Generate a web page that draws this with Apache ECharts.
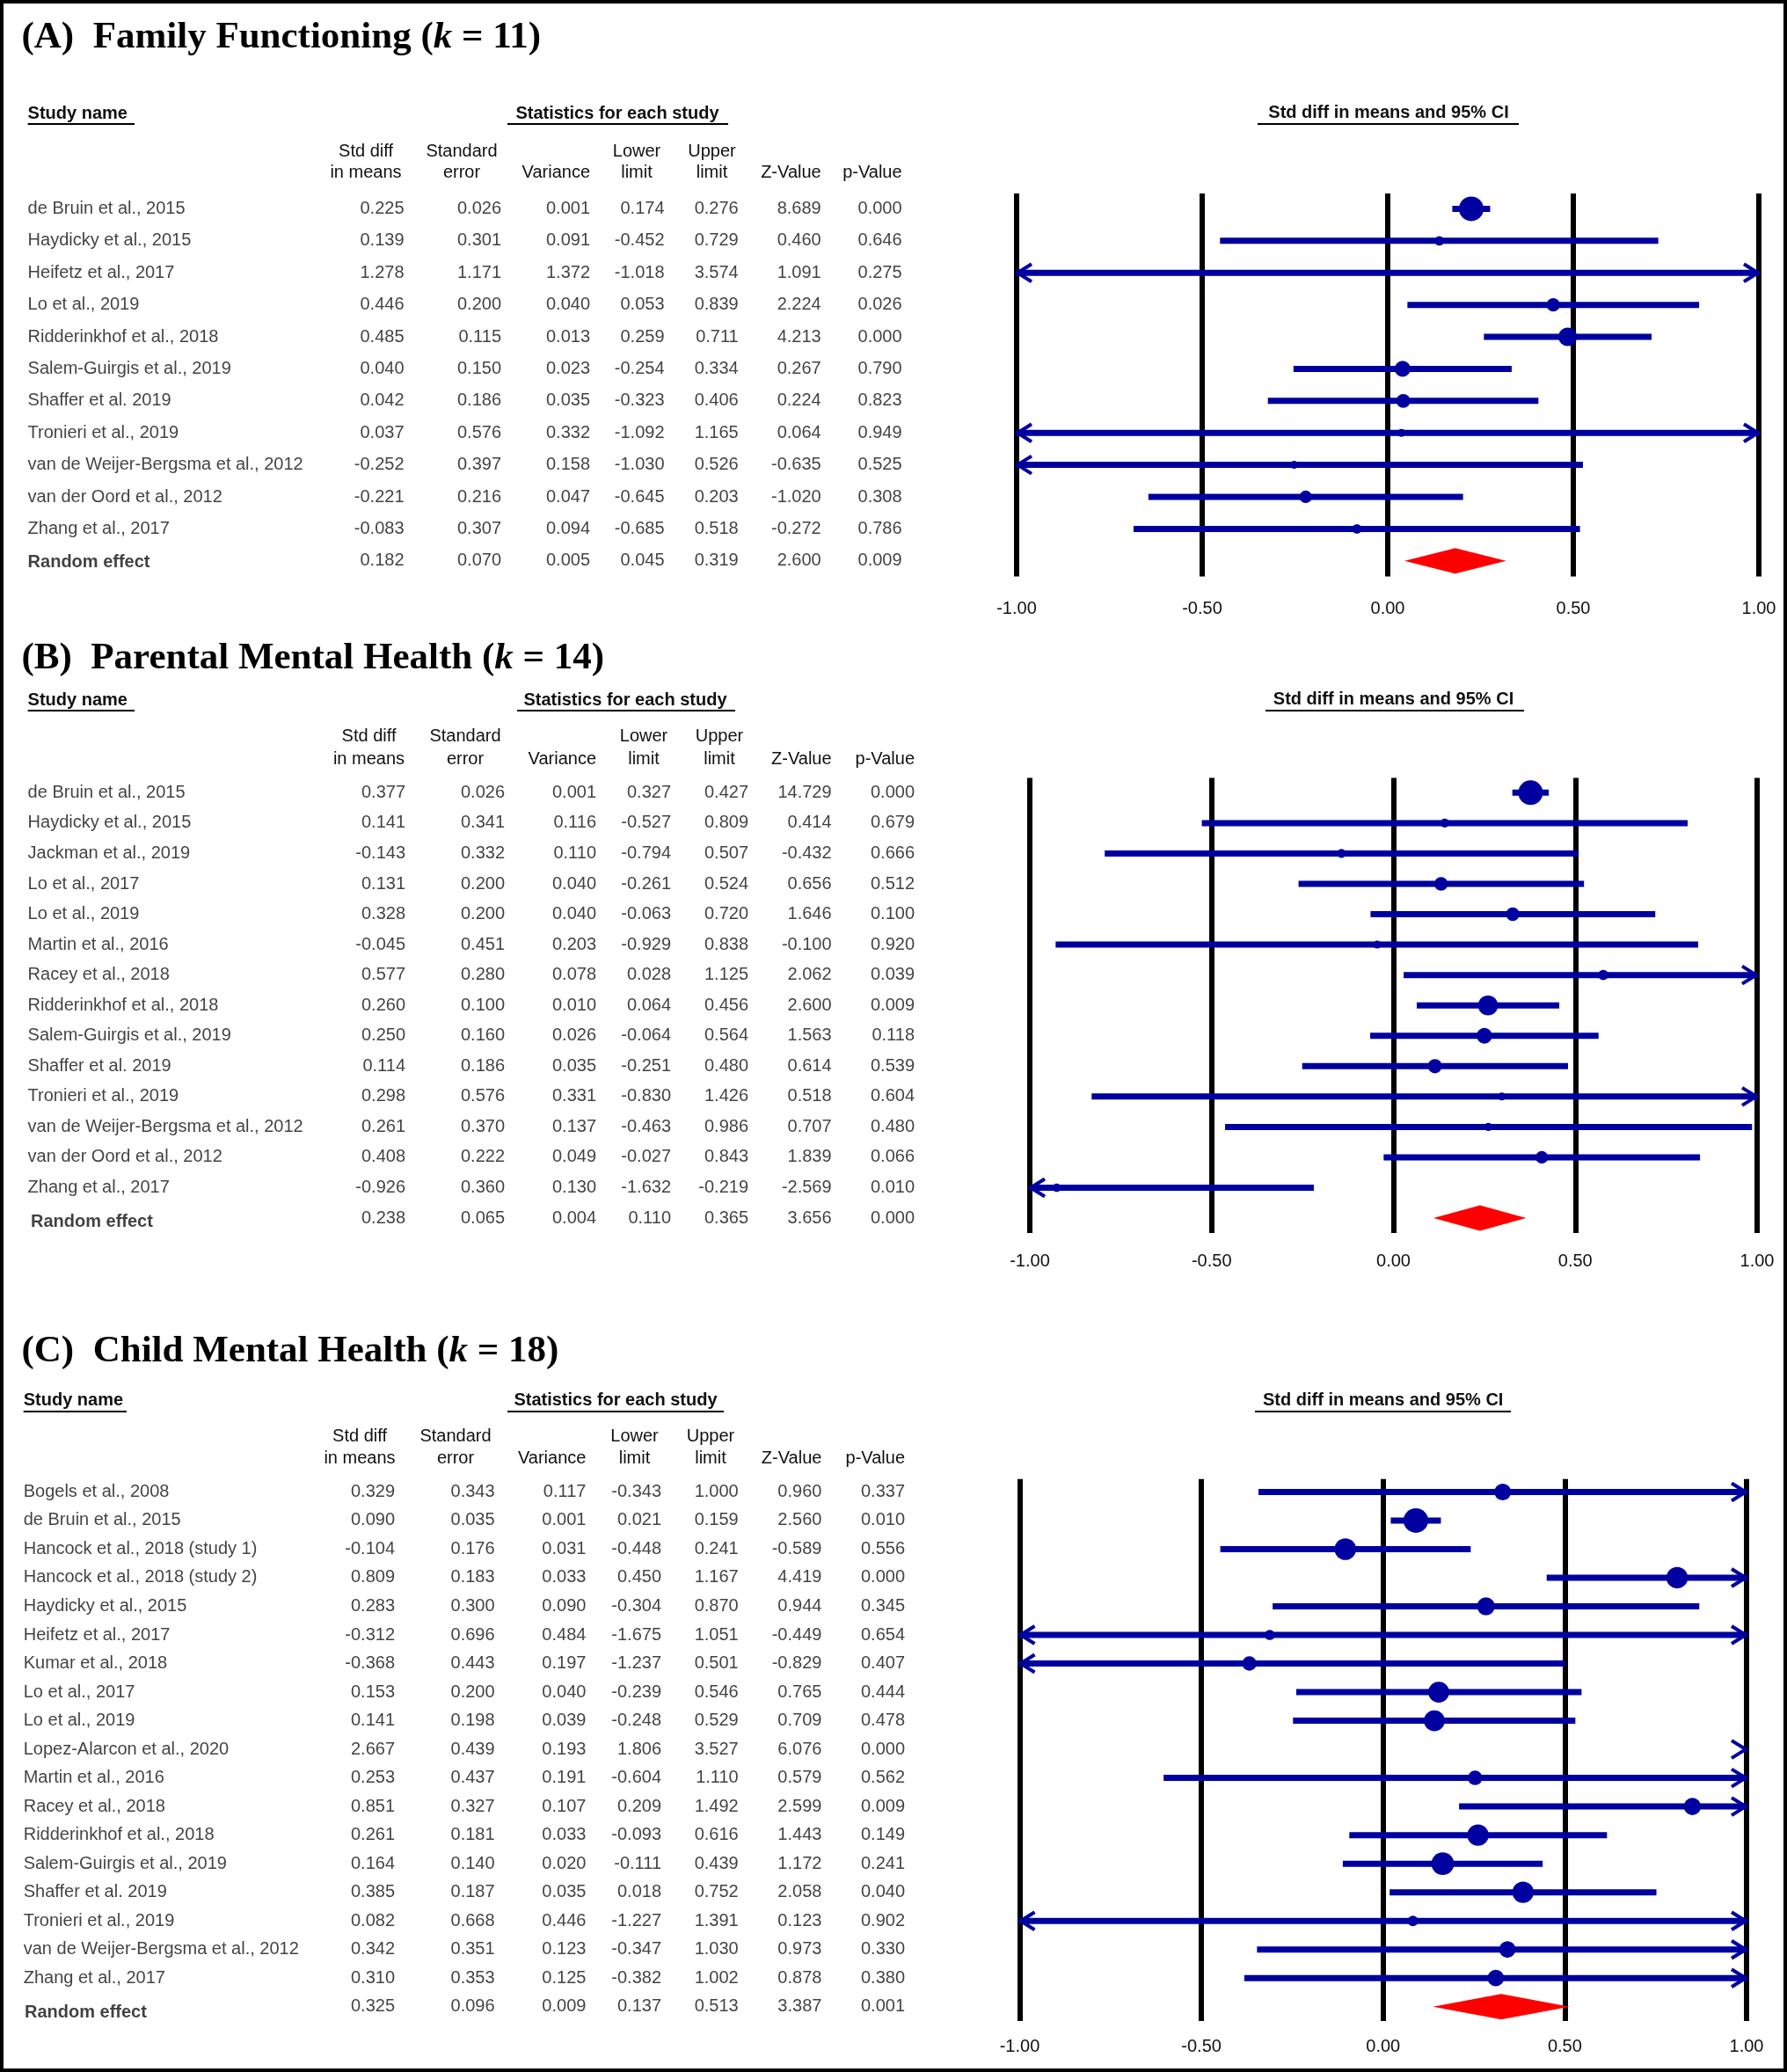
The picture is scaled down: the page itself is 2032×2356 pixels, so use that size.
<!DOCTYPE html>
<html><head><meta charset="utf-8">
<script src="https://cdn.jsdelivr.net/npm/echarts@6/dist/echarts.min.js"></script>
<style>html,body{margin:0;padding:0;background:#fff}#c{width:2032px;height:2356px}</style>
</head><body><div id="c"></div>
<script>
// ---------- Panel A: Family Functioning ----------
const studiesA = ['de Bruin et al., 2015','Haydicky et al., 2015','Heifetz et al., 2017','Lo et al., 2019','Ridderinkhof et al., 2018','Salem-Guirgis et al., 2019','Shaffer et al. 2019','Tronieri et al., 2019','van de Weijer-Bergsma et al., 2012','van der Oord et al., 2012','Zhang et al., 2017'];
const smdA = [0.225,0.139,1.278,0.446,0.485,0.040,0.042,0.037,-0.252,-0.221,-0.083];
const seA  = [0.026,0.301,1.171,0.200,0.115,0.150,0.186,0.576,0.397,0.216,0.307];
const varA = [0.001,0.091,1.372,0.040,0.013,0.023,0.035,0.332,0.158,0.047,0.094];
const lowA = [0.174,-0.452,-1.018,0.053,0.259,-0.254,-0.323,-1.092,-1.030,-0.645,-0.685];
const upA  = [0.276,0.729,3.574,0.839,0.711,0.334,0.406,1.165,0.526,0.203,0.518];
const zA   = [8.689,0.460,1.091,2.224,4.213,0.267,0.224,0.064,-0.635,-1.020,-0.272];
const pA   = [0.000,0.646,0.275,0.026,0.000,0.790,0.823,0.949,0.525,0.308,0.786];
const pooledA = [0.182,0.070,0.005,0.045,0.319,2.600,0.009];

// ---------- Panel B: Parental Mental Health ----------
const studiesB = ['de Bruin et al., 2015','Haydicky et al., 2015','Jackman et al., 2019','Lo et al., 2017','Lo et al., 2019','Martin et al., 2016','Racey et al., 2018','Ridderinkhof et al., 2018','Salem-Guirgis et al., 2019','Shaffer et al. 2019','Tronieri et al., 2019','van de Weijer-Bergsma et al., 2012','van der Oord et al., 2012','Zhang et al., 2017'];
const smdB = [0.377,0.141,-0.143,0.131,0.328,-0.045,0.577,0.260,0.250,0.114,0.298,0.261,0.408,-0.926];
const seB  = [0.026,0.341,0.332,0.200,0.200,0.451,0.280,0.100,0.160,0.186,0.576,0.370,0.222,0.360];
const varB = [0.001,0.116,0.110,0.040,0.040,0.203,0.078,0.010,0.026,0.035,0.331,0.137,0.049,0.130];
const lowB = [0.327,-0.527,-0.794,-0.261,-0.063,-0.929,0.028,0.064,-0.064,-0.251,-0.830,-0.463,-0.027,-1.632];
const upB  = [0.427,0.809,0.507,0.524,0.720,0.838,1.125,0.456,0.564,0.480,1.426,0.986,0.843,-0.219];
const zB   = [14.729,0.414,-0.432,0.656,1.646,-0.100,2.062,2.600,1.563,0.614,0.518,0.707,1.839,-2.569];
const pB   = [0.000,0.679,0.666,0.512,0.100,0.920,0.039,0.009,0.118,0.539,0.604,0.480,0.066,0.010];
const pooledB = [0.238,0.065,0.004,0.110,0.365,3.656,0.000];

// ---------- Panel C: Child Mental Health ----------
const studiesC = ['Bogels et al., 2008','de Bruin et al., 2015','Hancock et al., 2018 (study 1)','Hancock et al., 2018 (study 2)','Haydicky et al., 2015','Heifetz et al., 2017','Kumar et al., 2018','Lo et al., 2017','Lo et al., 2019','Lopez-Alarcon et al., 2020','Martin et al., 2016','Racey et al., 2018','Ridderinkhof et al., 2018','Salem-Guirgis et al., 2019','Shaffer et al. 2019','Tronieri et al., 2019','van de Weijer-Bergsma et al., 2012','Zhang et al., 2017'];
const smdC = [0.329,0.090,-0.104,0.809,0.283,-0.312,-0.368,0.153,0.141,2.667,0.253,0.851,0.261,0.164,0.385,0.082,0.342,0.310];
const seC  = [0.343,0.035,0.176,0.183,0.300,0.696,0.443,0.200,0.198,0.439,0.437,0.327,0.181,0.140,0.187,0.668,0.351,0.353];
const varC = [0.117,0.001,0.031,0.033,0.090,0.484,0.197,0.040,0.039,0.193,0.191,0.107,0.033,0.020,0.035,0.446,0.123,0.125];
const lowC = [-0.343,0.021,-0.448,0.450,-0.304,-1.675,-1.237,-0.239,-0.248,1.806,-0.604,0.209,-0.093,-0.111,0.018,-1.227,-0.347,-0.382];
const upC  = [1.000,0.159,0.241,1.167,0.870,1.051,0.501,0.546,0.529,3.527,1.110,1.492,0.616,0.439,0.752,1.391,1.030,1.002];
const zC   = [0.960,2.560,-0.589,4.419,0.944,-0.449,-0.829,0.765,0.709,6.076,0.579,2.599,1.443,1.172,2.058,0.123,0.973,0.878];
const pC   = [0.337,0.010,0.556,0.000,0.345,0.654,0.407,0.444,0.478,0.000,0.562,0.009,0.149,0.241,0.040,0.902,0.330,0.380];
const pooledC = [0.325,0.096,0.009,0.137,0.513,3.387,0.001];

// estimated between-study variance per panel (used only for marker weights)
const tau2A = 0.015, tau2B = 0.016, tau2C = 0.10;

const xTicks = [-1, -0.5, 0, 0.5, 1];
const colHeads = [['Std diff','in means'],['Standard','error'],['','Variance'],['Lower','limit'],['Upper','limit'],['','Z-Value'],['','p-Value']];

// ---------- layout (pixels) ----------
const layoutA = {titleX:24.5, titleY:43, nameX:31.6, reX:31.6, reDy:2, hdrY:129.5, ulY:141, studyUl:[31.6,153], statsC:702, statsUl:[577,828], ciC:1579, ciY:128.6, ciUl:[1430,1727], ciUlY:141,
  h1:172, h2:196.4, colR:[459.5,570,671,755.5,839.7,933.7,1025.6], hdrC:[416,525,null,724,809.5,null,null],
  left:1156, right:32, top:220, bottom:1700.4, yMin:-0.48, yMax:11.49, labelMargin:27};
const layoutB = {titleX:24.5, titleY:749, nameX:31.6, reX:35, reDy:4, hdrY:796.4, ulY:808, studyUl:[31.6,153], statsC:711, statsUl:[588,836], ciC:1584.5, ciY:795.8, ciUl:[1439,1733], ciUlY:808,
  h1:837.7, h2:863, colR:[461,574,678,763,851,945.6,1040], hdrC:[419.5,529,null,732,818,null,null],
  left:1171, right:34, top:884.4, bottom:954, yMin:-0.49, yMax:14.49, labelMargin:22};
const layoutC = {titleX:24.5, titleY:1537, nameX:26.7, reX:28, reDy:7, hdrY:1592.8, ulY:1605, studyUl:[26.7,144], statsC:700, statsUl:[577,823], ciC:1572.7, ciY:1592.8, ciUl:[1427,1718], ciUlY:1605,
  h1:1633.7, h2:1658.3, colR:[449,562.6,666.4,752,839.7,934.4,1029], hdrC:[409,518,null,721.5,808,null,null],
  left:1159.5, right:46, top:1681.8, bottom:58, yMin:-0.45, yMax:18.5, labelMargin:19};

const panels = [
  {letter:'A', title:'Family Functioning', k:11, studies:studiesA, cols:[smdA,seA,varA,lowA,upA,zA,pA], pooled:pooledA, tau2:tau2A, L:layoutA},
  {letter:'B', title:'Parental Mental Health', k:14, studies:studiesB, cols:[smdB,seB,varB,lowB,upB,zB,pB], pooled:pooledB, tau2:tau2B, L:layoutB},
  {letter:'C', title:'Child Mental Health', k:18, studies:studiesC, cols:[smdC,seC,varC,lowC,upC,zC,pC], pooled:pooledC, tau2:tau2C, L:layoutC}
];

const BLUE = '#0000A0';
const RED = '#FF0000';
const FONT = '"Liberation Sans", Arial, sans-serif';
const SERIF = '"Liberation Serif", "Times New Roman", serif';
const TXT = '#111';

function renderStudy(params, api) {
  const est = api.value(0), lo = api.value(1), hi = api.value(2), row = api.value(3), d = api.value(4);
  const cl = v => Math.max(-1, Math.min(1, v));
  const y = api.coord([0, row])[1];
  const xa = api.coord([cl(lo), row])[0], xb = api.coord([cl(hi), row])[0];
  const xL = api.coord([-1, row])[0], xR = api.coord([1, row])[0];
  const ch = [];
  if (xb - xa > 0.5) ch.push({type:'line', shape:{x1:xa, y1:y, x2:xb, y2:y}, style:{stroke:BLUE, lineWidth:7}});
  if (lo <= -1) ch.push({type:'polyline', shape:{points:[[xL+17,y-10],[xL+1,y],[xL+17,y+10]]}, style:{stroke:BLUE, lineWidth:4, fill:null}});
  if (hi >= 1) ch.push({type:'polyline', shape:{points:[[xR-17,y-10],[xR-1,y],[xR-17,y+10]]}, style:{stroke:BLUE, lineWidth:4, fill:null}});
  if (est >= -1 && est <= 1) ch.push({type:'circle', shape:{cx:api.coord([est, row])[0], cy:y, r:d/2}, style:{fill:BLUE}});
  return {type:'group', children:ch};
}
function renderDiamond(params, api) {
  const est = api.value(0), lo = api.value(1), hi = api.value(2), row = api.value(3);
  const c = api.coord([est, row]);
  const xl = api.coord([lo, row])[0], xh = api.coord([hi, row])[0];
  return {type:'polygon', shape:{points:[[xl,c[1]],[c[0],c[1]-14.5],[xh,c[1]],[c[0],c[1]+14.5]]}, style:{fill:RED}};
}

const grid = [], xAxis = [], yAxis = [], series = [], graphic = [];

function txt(x, y, text, align, bold, size, family) {
  return {type:'text', x:x, y:y, silent:true, style:{text:text, fill:TXT, align:align, verticalAlign:'middle',
    fontSize:size || 20, fontWeight:bold ? 'bold' : 'normal', fontFamily:family || FONT}};
}
function uline(x1, x2, y) {
  return {type:'line', silent:true, shape:{x1:x1, y1:y, x2:x2, y2:y}, style:{stroke:'#000', lineWidth:2}};
}

panels.forEach((P, pi) => {
  const L = P.L, n = P.studies.length;
  const gT = pi*2, gF = pi*2 + 1;
  grid.push({left:0, right:0, top:L.top, bottom:L.bottom});
  grid.push({left:L.left, right:L.right, top:L.top, bottom:L.bottom});
  xAxis.push({gridIndex:gT, type:'value', min:0, max:2032, show:false});
  xAxis.push({gridIndex:gF, type:'value', min:xTicks[0], max:xTicks[xTicks.length-1], interval:xTicks[1]-xTicks[0],
    axisLine:{show:false}, axisTick:{show:false},
    splitLine:{show:true, showMinLine:true, showMaxLine:true, lineStyle:{color:'#000', width:6}},
    axisLabel:{show:true, showMinLabel:true, showMaxLabel:true, margin:L.labelMargin, fontSize:20, fontFamily:FONT, color:TXT,
      formatter:v => v.toFixed(2)}});
  yAxis.push({gridIndex:gT, type:'value', inverse:true, min:L.yMin, max:L.yMax, show:false});
  yAxis.push({gridIndex:gF, type:'value', inverse:true, min:L.yMin, max:L.yMax, show:false});

  // study names
  const names = P.studies.map((s, i) => ({name:s, value:[L.nameX, i]}));
  names.push({name:'Random effect', value:[L.reX, n], label:{fontWeight:'bold', offset:[0, L.reDy]}});
  series.push({type:'scatter', xAxisIndex:gT, yAxisIndex:gT, symbolSize:0, silent:true, itemStyle:{color:'rgba(0,0,0,0)'},
    label:{show:true, position:'right', distance:0, formatter:p => p.name, fontSize:20, fontFamily:FONT, color:TXT},
    data:names});
  // numeric cells
  const nums = [];
  P.cols.forEach((col, c) => col.forEach((v, i) => nums.push({name:v.toFixed(3), value:[L.colR[c], i]})));
  P.pooled.forEach((v, c) => nums.push({name:v.toFixed(3), value:[L.colR[c], n]}));
  series.push({type:'scatter', xAxisIndex:gT, yAxisIndex:gT, symbolSize:0, silent:true, itemStyle:{color:'rgba(0,0,0,0)'},
    label:{show:true, position:'left', distance:0, formatter:p => p.name, fontSize:20, fontFamily:FONT, color:TXT},
    data:nums});

  // forest marks
  const w = P.cols[2].map(v => 1 / (v + P.tau2));
  const wMax = Math.max(...w);
  const fdata = P.studies.map((s, i) => [P.cols[0][i], P.cols[3][i], P.cols[4][i], i, Math.max(9, 28 * Math.sqrt(w[i] / wMax))]);
  series.push({type:'custom', xAxisIndex:gF, yAxisIndex:gF, renderItem:renderStudy, data:fdata, encode:{x:0, y:3}, silent:true, clip:false, z:3});
  series.push({type:'custom', xAxisIndex:gF, yAxisIndex:gF, renderItem:renderDiamond,
    data:[[P.pooled[0], P.pooled[3], P.pooled[4], n]], encode:{x:0, y:3}, silent:true, clip:false, z:3});

  // titles and headers
  graphic.push({type:'text', x:L.titleX, y:L.titleY, silent:true, style:{
    text:'{b|(' + P.letter + ')  ' + P.title + ' (}{i|k}{b| = ' + P.k + ')}',
    fill:'#000', align:'left', verticalAlign:'middle',
    rich:{b:{fontFamily:SERIF, fontSize:43, fontWeight:'bold', fill:'#000'},
          i:{fontFamily:SERIF, fontSize:43, fontWeight:'bold', fontStyle:'italic', fill:'#000'}}}});
  graphic.push(txt(L.studyUl[0], L.hdrY, 'Study name', 'left', true));
  graphic.push(uline(L.studyUl[0], L.studyUl[1], L.ulY));
  graphic.push(txt(L.statsC, L.hdrY, 'Statistics for each study', 'center', true));
  graphic.push(uline(L.statsUl[0], L.statsUl[1], L.ulY));
  graphic.push(txt(L.ciC, L.ciY, 'Std diff in means and 95% CI', 'center', true));
  graphic.push(uline(L.ciUl[0], L.ciUl[1], L.ciUlY));
  colHeads.forEach((h, c) => {
    if (h[0]) {
      graphic.push(txt(L.hdrC[c], L.h1, h[0], 'center'));
      graphic.push(txt(L.hdrC[c], L.h2, h[1], 'center'));
    } else {
      graphic.push(txt(L.colR[c], L.h2, h[1], 'right'));
    }
  });
});

// outer frame
graphic.push({type:'rect', silent:true, shape:{x:2, y:2, width:2028, height:2352}, style:{fill:null, stroke:'#000', lineWidth:4}});

const chart = echarts.init(document.getElementById('c'), null, {renderer:'canvas'});
chart.setOption({
  animation:false,
  backgroundColor:'#fff',
  grid:grid, xAxis:xAxis, yAxis:yAxis, series:series, graphic:graphic
});
</script>
</body></html>
